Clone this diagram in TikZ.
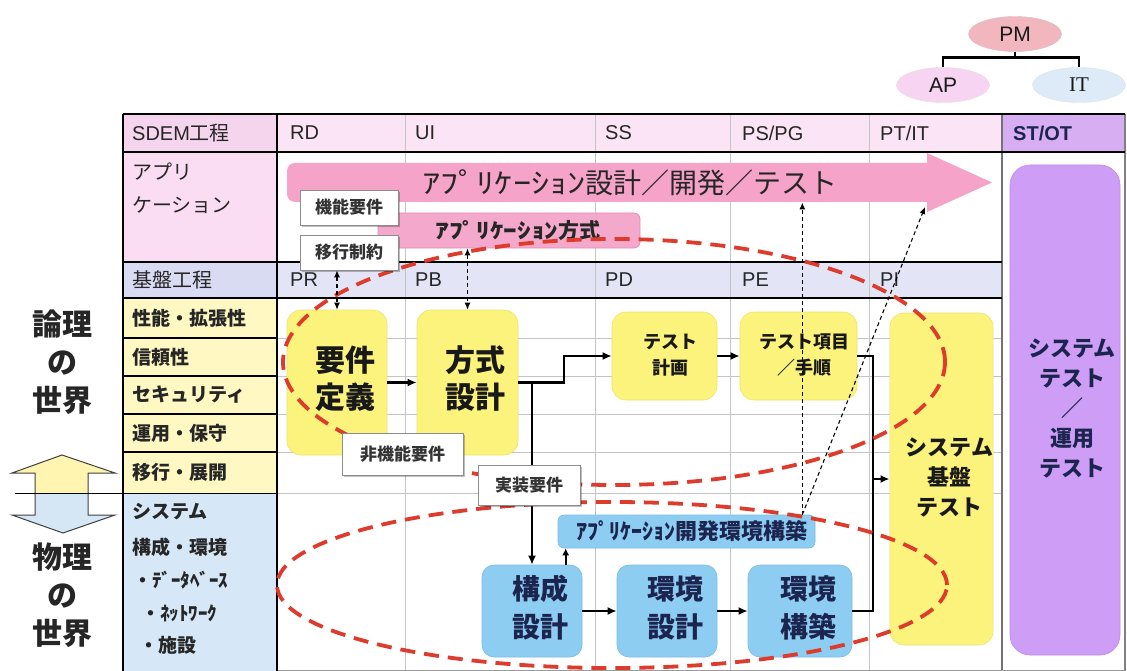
\documentclass[tikz,border=0pt]{standalone}
\usepackage{fontspec}
\setmainfont{Liberation Sans}
\newfontfamily\jp{Noto Sans CJK JP}
\newfontfamily\srf{Liberation Serif}
\usepackage{graphicx}
\usetikzlibrary{arrows.meta,shadows,calc,shapes.geometric}
\definecolor{hdrlab}{HTML}{F5D5EE}
\definecolor{hdrcell}{HTML}{FBE4F5}
\definecolor{stot}{HTML}{D8AEF2}
\definecolor{applab}{HTML}{FBDDF3}
\definecolor{kiblab}{HTML}{D9DBF2}
\definecolor{kibcell}{HTML}{E3E5F7}
\definecolor{ylab}{HTML}{FFF8C2}
\definecolor{blab}{HTML}{D6E8F7}
\definecolor{boxY}{HTML}{FBF37C}
\definecolor{boxYd}{HTML}{EDE46A}
\definecolor{boxB}{HTML}{8ECDF2}
\definecolor{boxBd}{HTML}{78BCE6}
\definecolor{boxP}{HTML}{CE9DF5}
\definecolor{boxPd}{HTML}{BE8AE8}
\definecolor{pinkA}{HTML}{F5A3C8}
\definecolor{pinkB}{HTML}{F4A8CB}
\definecolor{pinkBd}{HTML}{E48DB6}
\definecolor{navy}{HTML}{1B2550}
\definecolor{redD}{HTML}{DD3B2B}
\definecolor{gridG}{HTML}{C4C4C4}
\definecolor{pmC}{HTML}{F2B6BE}
\definecolor{apC}{HTML}{F7D4F1}
\definecolor{itC}{HTML}{DCEBF7}
\definecolor{upA}{HTML}{FFF5B0}
\definecolor{dnA}{HTML}{D5E6F5}
\newcommand\fs[2]{\fontsize{#1}{#2}\selectfont}
\newcommand\sh[2][16pt]{\hspace*{#1}\begin{tabular}{@{}c@{}}#2\end{tabular}}
\newcommand\wk[1]{\scalebox{1.3}[1]{#1}}
\begin{document}
\begin{tikzpicture}[x=1pt,y=-1pt,
  lbl/.style={anchor=west,inner sep=0pt,font=\jp\fs{20}{24},text=black!85},
  lblb/.style={anchor=west,inner sep=0pt,font=\jp\bfseries\fs{19}{23},text=black!85},
  hd/.style={anchor=west,inner sep=0pt,font=\fs{20}{24},text=black!85},
  ybox/.style={fill=boxY,draw=boxYd,line width=0.6pt,rounded corners=14pt,inner sep=0pt,text=black!90},
  bbox/.style={fill=boxB,draw=boxBd,line width=0.6pt,rounded corners=12pt,inner sep=0pt,text=navy,font=\jp\bfseries\fs{28}{38}},
  note/.style={fill=white,draw=black!45,line width=0.7pt,inner sep=0pt,font=\jp\bfseries\fs{17}{20},text=black!80,
    drop shadow={shadow xshift=2pt,shadow yshift=-2pt,fill=black,opacity=0.25}},
  conn/.style={line width=2.2pt,-{Latex[length=9pt,width=8pt]}},
  connl/.style={line width=2.2pt},
  dconn/.style={line width=1.1pt,dash pattern=on 4pt off 3pt,{Latex[length=7pt,width=6pt]}-{Latex[length=7pt,width=6pt]}},
  dconnone/.style={line width=1.1pt,dash pattern=on 4pt off 3pt,-{Latex[length=7pt,width=6pt]}},
  redd/.style={draw=redD,line width=3.8pt,dash pattern=on 15pt off 9pt},
  org/.style={ellipse,inner sep=0pt,minimum width=93pt,minimum height=35pt,font=\fs{21}{24},text=black!90}
]
\useasboundingbox (0,0) rectangle (1127,671);
\fill[white] (0,0) rectangle (1127,671);
% ---- cell fills
\fill[hdrlab] (123,114) rectangle (277,152);
\fill[hdrcell] (277,114) rectangle (1002,152);
\fill[stot] (1002,114) rectangle (1125,152);
\fill[applab] (123,152) rectangle (277,262);
\fill[kiblab] (123,262) rectangle (277,298);
\fill[kibcell] (277,262) rectangle (1002,298);
\fill[ylab] (123,298) rectangle (277,493);
\fill[blab] (123,493) rectangle (277,671);
% ---- grid
\foreach \gx in {405,595,730,869} \draw[gridG,line width=1pt] (\gx,114) -- (\gx,671);
\foreach \gy in {338,376,414,452,493} \draw[gridG,line width=1pt] (277,\gy) -- (1002,\gy);
\draw[black!55,line width=1.3pt] (1002,114) -- (1002,671);
\draw[black!50,line width=1.3pt] (1125,114) -- (1125,671);
\draw[black!40,line width=1pt] (277,670) -- (1125,670);
\foreach \gy in {338,376,414,452} \draw[black,line width=1.2pt] (123,\gy) -- (277,\gy);
\draw[black,line width=2.8pt] (123,114) -- (1125,114);
\draw[black,line width=2.8pt] (123,152) -- (1125,152);
\draw[black,line width=2.8pt] (123,262) -- (1002,262);
\draw[black,line width=2.8pt] (123,298) -- (1002,298);
\draw[black,line width=2.8pt] (123,114) -- (123,671);
\draw[black,line width=2.8pt] (277,114) -- (277,671);
% ---- left arrows
\draw[fill=upA,draw=black!75,line width=1pt] (35,494) -- (35,473) -- (12,473) -- (62,455) -- (115,473) -- (88,473) -- (88,494);
\draw[fill=dnA,draw=black!75,line width=1pt] (35,494) -- (35,515) -- (12,515) -- (63,533) -- (115,515) -- (88,515) -- (88,494);
\draw[black,line width=1.5pt] (15,493.5) -- (277,493.5);
\node[font=\jp\bfseries\fs{30}{38},align=center,text=black!85] (ronri) at (62,362) {論理\\の\\世界};
\node[font=\jp\bfseries\fs{30}{38},align=center,text=black!85] (butsuri) at (62,595) {物理\\の\\世界};
% ---- table texts
\node[hd] (tSDEM) at (132,133) {SDEM{\jp 工程}};
\node[hd] (tRD) at (290,133) {RD};
\node[hd] (tUI) at (415,133) {UI};
\node[hd] (tSS) at (605,133) {SS};
\node[hd] (tPS) at (742,133) {PS/PG};
\node[hd] (tPT) at (880,133) {PT/IT};
\node[hd,font=\bfseries\fs{20}{24},text=navy] (tST) at (1013,133) {ST/OT};
\node[lbl] (tAP1) at (132,172) {アプリ};
\node[lbl] (tAP2) at (132,205) {ケーション};
\node[lbl] (tKB) at (132,280) {基盤工程};
\node[hd] (tPR) at (290,280) {PR};
\node[hd] (tPB) at (415,280) {PB};
\node[hd] (tPD) at (605,280) {PD};
\node[hd] (tPE) at (742,280) {PE};
\node[hd] (tPI) at (880,280) {PI};
\node[lblb] (r1) at (132,318) {性能・拡張性};
\node[lblb] (r2) at (132,357) {信頼性};
\node[lblb] (r3) at (132,395) {セキュリティ};
\node[lblb] (r4) at (132,433) {運用・保守};
\node[lblb] (r5) at (132,472) {移行・展開};
\node[lblb] (s1) at (132,512) {システム};
\node[lblb] (s2) at (132,547) {構成・環境};
\node[lblb] (s3) at (133,580) {・ﾃﾞｰﾀﾍﾞｰｽ};
\node[lblb] (s4) at (141,613) {・ﾈｯﾄﾜｰｸ};
\node[lblb] (s5) at (139,645) {・施設};
% ---- org chart
\node[org,fill=pmC,draw=pmC!80!black!60] (pm) at (1015,34) {PM};
\node[org,fill=apC,draw=apC!80!black!40] (ap) at (943,85) {AP};
\node[org,fill=itC,draw=itC!80!black!40,font=\srf\fs{21}{24}] (it) at (1079,85) {IT};
\draw[line width=2.4pt] (pm.south) -- ++(0,6) coordinate (pmj);
\draw[line width=2.4pt] (ap.north) |- (pmj) -| (it.north);
% ---- big application arrow
\fill[pinkA] (600,163) -- (927,163) -- (927,153) -- (992,182.5) -- (927,212) -- (927,202) [rounded corners=8pt] -- (287,202) -- (287,163) -- cycle;
\node[font=\jp\fs{28}{32},text=black!85] (apptxt) at (630,183) {\wk{ｱﾌﾟﾘｹｰｼｮﾝ}設計／開発／テスト};
\coordinate (bodyb) at (0,202.5);
\coordinate (headb) at (925,207);
\node[fill=pinkB,draw=pinkBd,line width=0.8pt,rounded corners=6pt,minimum width=262pt,minimum height=35pt,inner sep=0pt,font=\jp\bfseries\fs{21}{24},text=black!85] (am) at (509,230.5) {\hspace*{18pt}\wk{ｱﾌﾟﾘｹｰｼｮﾝ}方式};
% ---- process boxes
\node[ybox,minimum width=100pt,minimum height=145pt,font=\jp\bfseries\fs{30}{37}] (yk) at (337,382.5) {\sh{要件\\定義}};
\node[ybox,minimum width=101pt,minimum height=145pt,font=\jp\bfseries\fs{30}{37}] (hs) at (467.5,382.5) {\sh{方式\\設計}};
\node[ybox,minimum width=105pt,minimum height=88pt,font=\jp\bfseries\fs{18}{26}] (tk) at (664.5,356) {\sh[12pt]{テスト\\計画}};
\node[ybox,minimum width=117pt,minimum height=88pt,font=\jp\bfseries\fs{18}{26}] (tp) at (798.5,356) {\sh[12pt]{テスト項目\\／手順}};
\node[ybox,minimum width=103pt,minimum height=332pt,font=\jp\bfseries\fs{22}{30}] (sk) at (941.5,479) {\sh{システム\\基盤\\テスト}};
\node[fill=boxP,draw=boxPd,line width=0.6pt,rounded corners=20pt,minimum width=110pt,minimum height=490pt,inner sep=0pt,font=\jp\bfseries\fs{22}{30},text=navy] (st) at (1065,410) {\sh[14pt]{システム\\テスト\\／\\運用\\テスト}};
\node[bbox,minimum width=100pt,minimum height=92pt] (ks) at (532,611) {\sh{構成\\設計}};
\node[bbox,minimum width=100pt,minimum height=92pt] (es) at (667,611) {\sh{環境\\設計}};
\node[bbox,minimum width=104pt,minimum height=92pt] (ec) at (800,611) {\sh{環境\\構築}};
\node[fill=boxB,draw=boxBd,line width=0.6pt,rounded corners=6pt,minimum width=257pt,minimum height=33pt,inner sep=0pt,font=\jp\bfseries\fs{22}{26},text=navy] (ad) at (686.5,531.5) {\hspace*{10pt}ｱﾌﾟﾘｹｰｼｮﾝ開発環境構築};
% ---- solid connectors
\draw[conn] (yk.east) -- (hs.west);
\draw[conn] (hs.east) -- ($(hs.east)+(46,0)$) |- (tk.west);
\draw[conn] (hs.east -| ks.north) -- (ks.north);
\draw[conn] (tk.east) -- (tp.west);
\coordinate (jn) at (873,611);
\draw[connl] (tp.east) -| (jn) -- (ec.east);
\draw[conn] (jn |- sk.west) -- (sk.west);
\draw[conn] (ks.east) -- (es.west);
\draw[conn] (es.east) -- (ec.west);
\coordinate (adl) at ([xshift=8pt]ad.south west);
\draw[line width=1.6pt,-{Latex[length=7pt,width=7pt]}] (adl |- ks.north) -- (adl);
% ---- red dashed ellipses
\draw[redd] (614,362) ellipse [x radius=331pt,y radius=123pt];
\draw[redd] (612,585) ellipse [x radius=335pt,y radius=83pt];
% ---- notes
\node[note,minimum width=98pt,minimum height=35pt] (kn) at (349,207.5) {機能要件};
\node[note,minimum width=98pt,minimum height=35pt] (ik) at (349,252.5) {移行制約};
\node[note,minimum width=121pt,minimum height=42pt] (hk) at (402.5,454) {非機能要件};
\node[note,minimum width=102pt,minimum height=40pt] (jk) at (529,485) {実装要件};
% ---- dashed connectors
\draw[dconn] (yk.north |- ik.south) -- (yk.north);
\draw[dconn] (hs.north |- am.south) -- (hs.north);
\coordinate (adt) at ([xshift=-13pt]ad.north east);
\draw[dconnone] (adt) -- (adt |- bodyb);
\draw[dconnone] (adt) -- (headb);
\end{tikzpicture}
\end{document}
